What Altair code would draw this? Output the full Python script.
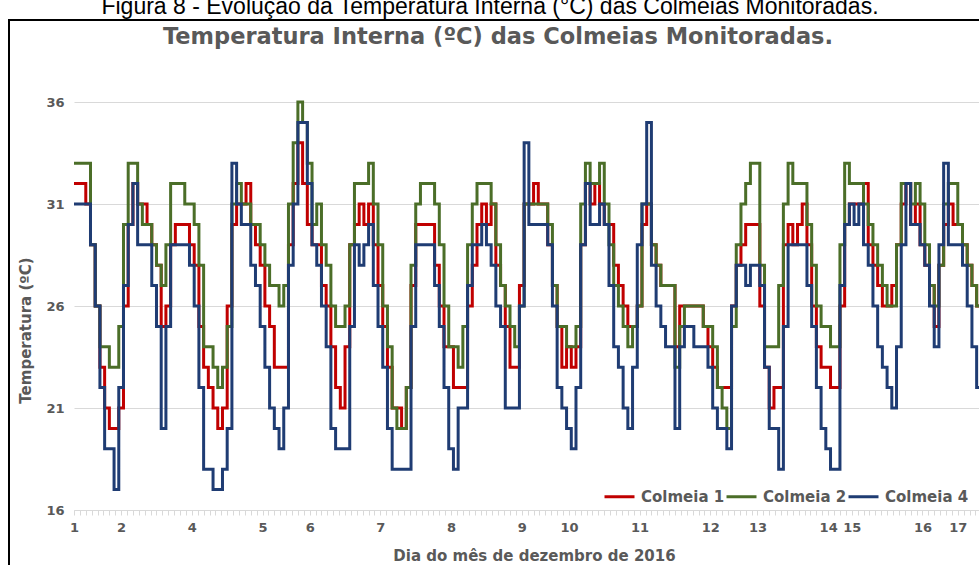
import json
import altair as alt
import pandas as pd
import numpy as np

# ---- data: one value every 2 hours, from the start of day 1 ----
colmeia1 = [32,32,32,31,29,26,23,21,20,20,
            21,26,30,32,31,31,30,29,28,25,
            26,29,30,30,30,29,28,25,23,22,
            21,20,21,26,30,31,
            31,32,30,29,28,26,25,23,23,23,
            29,32,34,32,30,29,29,27,26,24,
            22,21,24,29,30,31,30,31,29,27,
            25,23,21,21,20,22,27,30,30,30,
            30,28,26,24,24,22,22,22,26,28,
            30,31,30,31,28,27,25,23,23,27,
            31,31,32,31,31,29,27,25,23,24,
            23,24,29,32,31,32,31,30,
            30,28,27,26,25,25,26,30,31,29,
            28,27,27,27,24,26,26,26,26,26,
            25,24,23,22,22,22,26,28,29,30,
            30,30,26,23,21,22,22,29,
            30,29,30,31,29,26,24,23,23,22,
            22,26,30,31,31,31,32,29,28,27,
            26,26,27,29,31,32,30,31,29,28,
            27,25,28,30,31,30,30,29,28,27,
            26]
colmeia2 = [33,33,33,33,29,26,24,24,23,23,
            25,30,33,33,31,30,30,29,28,27,
            29,32,32,32,31,31,30,28,24,24,
            23,22,23,25,31,32,
            31,31,30,30,29,28,27,27,26,27,
            31,34,36,35,33,30,31,29,28,26,
            25,25,26,29,32,32,32,33,31,29,
            26,24,21,20,20,22,28,31,32,32,
            32,31,29,26,24,24,23,25,29,31,
            32,32,32,31,29,27,26,25,24,26,
            31,31,31,31,31,30,27,25,25,24,
            24,25,31,33,32,32,33,31,
            29,27,26,25,24,25,26,31,31,29,
            28,27,27,27,23,25,26,26,26,26,
            25,25,24,22,21,20,25,29,31,32,
            33,33,28,24,24,24,27,31,
            33,32,32,32,30,28,26,25,25,24,
            24,29,33,32,32,32,31,30,29,28,
            27,26,26,29,32,32,31,32,31,29,
            27,26,28,31,32,32,30,29,28,27,
            26]
colmeia4 = [31,31,31,31,29,26,22,19,19,17,
            22,27,30,32,29,29,29,27,25,20,
            25,29,29,29,29,28,26,22,18,18,
            17,17,18,20,33,31,
            30,30,28,27,25,23,21,20,19,21,
            28,31,35,35,32,29,28,26,24,20,
            19,19,19,25,29,28,29,30,27,25,
            23,20,18,18,18,18,25,29,29,29,
            29,27,25,22,19,18,21,21,27,29,
            29,30,29,28,26,25,21,21,21,26,
            34,30,30,30,30,29,26,22,21,20,
            19,22,29,32,30,30,31,30,
            27,24,23,21,20,23,29,31,35,28,
            26,25,24,24,20,24,25,25,24,24,
            24,23,21,20,20,19,26,28,28,27,
            28,28,27,23,20,20,18,25,
            29,29,29,29,27,25,22,20,19,18,
            18,27,30,31,30,31,29,28,26,24,
            23,22,21,24,29,32,30,30,29,28,
            26,24,29,33,29,29,29,28,26,24,
            22]

series_names = ["Colmeia 1", "Colmeia 2", "Colmeia 4"]
series_colors = ["#C00000", "#4B6E28", "#1F3C73"]

day_labels = ["1", "2", "4", "5", "6", "7", "8", "9", "10", "11",
              "12", "13", "14", "15", "16", "17"]
day_label_pos = [0, 10, 25, 40, 50, 65, 80, 95, 105, 120,
                 135, 145, 160, 165, 180, 187.5]
y_ticks = [16, 21, 26, 31, 36]

caption = "Figura 8 - Evolução da Temperatura Interna (°C) das Colmeias Monitoradas."
chart_title = "Temperatura Interna (ºC) das Colmeias Monitoradas."

rows = []
for name, vals in zip(series_names, [colmeia1, colmeia2, colmeia4]):
    for i, v in enumerate(vals):
        rows.append({"amostra": i, "temp": v, "serie": name})
df = pd.DataFrame(rows)

tick_values = [float(v) for v in np.arange(0, 192.01, 1.25)]
pos_js = json.dumps(day_label_pos)
lab_js = json.dumps(day_labels)
label_expr = f"indexof({pos_js}, datum.value) >= 0 ? {lab_js}[indexof({pos_js}, datum.value)] : ''"

GRAY = "#595959"
FONT = "DejaVu Sans"

lines = alt.Chart(df).mark_line(interpolate="step", strokeWidth=3).encode(
    x=alt.X("amostra:Q",
            scale=alt.Scale(domain=[0, 192], nice=False, zero=False),
            axis=alt.Axis(values=tick_values, labelExpr=label_expr,
                          title="Dia do mês de dezembro de 2016",
                          grid=False, domainColor="#d9d9d9", domainWidth=1,
                          tickColor="#d9d9d9", tickSize=5,
                          labelFont=FONT, labelFontWeight="bold", labelFontSize=13,
                          labelColor=GRAY, labelPadding=6, labelOverlap=False,
                          labelBound=False, labelFlush=False,
                          titleFont=FONT, titleFontWeight="bold", titleFontSize=15,
                          titleColor=GRAY, titleX=460, titleY=45,
                          titleBaseline="middle", titleAlign="center")),
    y=alt.Y("temp:Q",
            scale=alt.Scale(domain=[16, 36], nice=False, zero=False),
            axis=alt.Axis(values=y_ticks, title="Temperatura (ºC)",
                          domain=False, ticks=False, grid=True,
                          gridColor="#d9d9d9", gridWidth=1,
                          labelFont=FONT, labelFontWeight="bold", labelFontSize=13,
                          labelColor=GRAY, labelPadding=10,
                          titleFont=FONT, titleFontWeight="bold", titleFontSize=15,
                          titleColor=GRAY, titleX=-49, titleY=228,
                          titleBaseline="middle", titleAlign="center")),
    color=alt.Color("serie:N",
                    scale=alt.Scale(domain=series_names, range=series_colors),
                    legend=alt.Legend(title=None, orient="none", legendX=529, legendY=378,
                                      direction="horizontal", symbolType="stroke",
                                      symbolStrokeWidth=3, symbolSize=900,
                                      labelFont=FONT, labelFontWeight="bold",
                                      labelFontSize=15, labelColor=GRAY,
                                      labelOffset=5, columnPadding=-10)),
)

title_layer = alt.Chart(pd.DataFrame({"t": [chart_title]})).mark_text(
    font=FONT, fontWeight="bold", fontSize=22.5, color=GRAY,
    align="center", baseline="middle"
).encode(x=alt.value(424), y=alt.value(-65), text="t:N")

caption_layer = alt.Chart(pd.DataFrame({"t": [caption]})).mark_text(
    font="Liberation Sans", fontSize=23, color="#000000",
    align="center", baseline="alphabetic"
).encode(x=alt.value(416), y=alt.value(-88), text="t:N")

frame = alt.Chart(pd.DataFrame({"k": [0]})).mark_rect(
    filled=False, stroke="#000000", strokeWidth=2
).encode(x=alt.value(-65), x2=alt.value(920), y=alt.value(-82), y2=alt.value(480))

chart = alt.layer(frame, lines, title_layer, caption_layer).properties(
    width=905, height=408,
    autosize=alt.AutoSizeParams(type="none"),
    padding={"left": 74, "top": 102, "right": 0, "bottom": 55},
    background="white",
).configure_view(strokeWidth=0)

chart.save("out.html", embed_options={"renderer": "svg", "actions": False})
